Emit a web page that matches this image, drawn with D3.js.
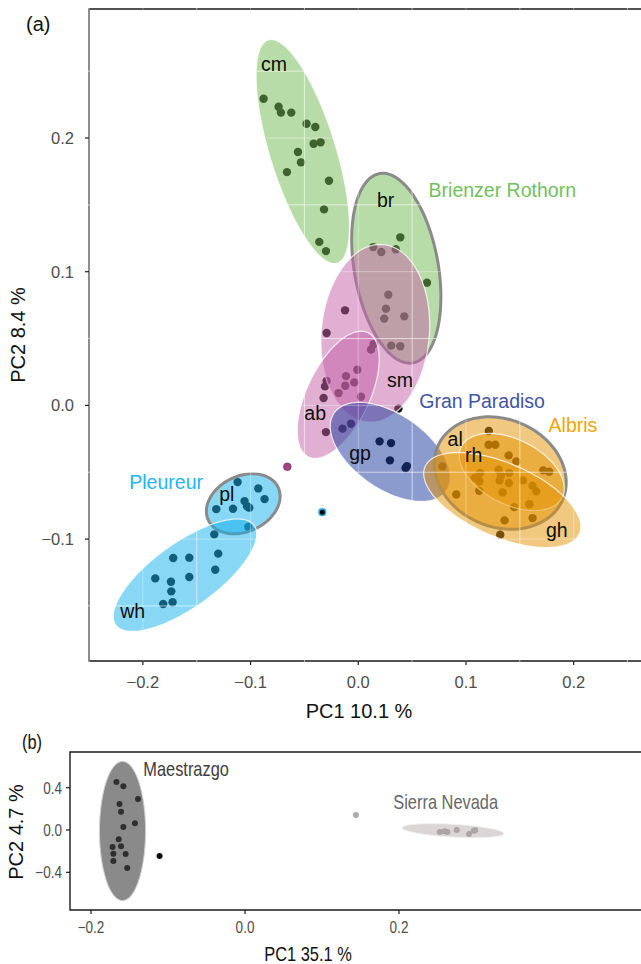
<!DOCTYPE html>
<html>
<head>
<meta charset="utf-8">
<script src="https://cdn.jsdelivr.net/npm/d3@7"></script>
<style>
  body { margin: 0; background: #fff; }
  svg { display: block; font-family: "Liberation Sans", Arial, Helvetica, sans-serif; }
</style>
</head>
<body>
<svg width="641" height="964"></svg>
<script>
// ---- panel (a): PC scores per region ----
let cmPts = [[-0.0879,0.2294],[-0.0740,0.2234],[-0.0718,0.2190],[-0.0622,0.2190],[-0.0480,0.2107],
  [-0.0399,0.2082],[-0.0415,0.1957],[-0.0350,0.1968],[-0.0560,0.1895],[-0.0532,0.1818],
  [-0.0662,0.1745],[-0.0272,0.1680],[-0.0318,0.1466],[-0.0362,0.1223],[-0.0300,0.1154]];
let brPts = [[0.0390,0.1257],[0.0348,0.1168],[0.0638,0.0918]];
let smPts = [[0.0139,0.1184],[0.0214,0.1147],[0.0279,0.0828],[0.0257,0.0723],[0.0241,0.0649],
  [0.0427,0.0666],[0.0306,0.0447],[0.0390,0.0442],[-0.0123,0.0711],[-0.0294,0.0541],
  [0.0142,0.0457],[0.0118,0.0417],[-0.0009,0.0267],[-0.0114,0.0219],[-0.0037,0.0172],
  [-0.0121,0.0147],[-0.0183,0.0092],[0.0025,0.0065],[-0.0294,0.0182],[-0.0309,0.0142],
  [-0.0322,0.0055],[0.0373,-0.0024],[-0.0300,-0.0200]];
let gpPts = [[-0.0146,-0.0174],[-0.0068,-0.0137],[0.0198,-0.0269],[0.0304,-0.0282],
  [0.0294,-0.0411],[0.0439,-0.0469],[0.0452,-0.0454]];
let albrisPts = [[0.1212,-0.0192],[0.1210,-0.0294],[0.1272,-0.0294],[0.1396,-0.0374],[0.1467,-0.0419],
  [0.0780,-0.0456],[0.1132,-0.0506],[0.1083,-0.0541],[0.1125,-0.0568],[0.1302,-0.0481],
  [0.1401,-0.0506],[0.1325,-0.0524],[0.1312,-0.0561],[0.1399,-0.0581],[0.1529,-0.0561],
  [0.1618,-0.0601],[0.1653,-0.0643],[0.1718,-0.0486],[0.1773,-0.0496],[0.1340,-0.0651],
  [0.1123,-0.0638],[0.0910,-0.0666],[0.1448,-0.0761],[0.1588,-0.0740],[0.1358,-0.0860],
  [0.1618,-0.0843],[0.1318,-0.0967]];
let pleureurPts = [[-0.1120,-0.0574],[-0.0928,-0.0621],[-0.0870,-0.0701],[-0.1056,-0.0716],
  [-0.1012,-0.0765],[-0.1033,-0.0755],[-0.1163,-0.0773],[-0.1318,-0.0776],[-0.1021,-0.0910],
  [-0.1337,-0.0965],[-0.1300,-0.1109],[-0.1328,-0.1229],[-0.1569,-0.1139],[-0.1718,-0.1142],
  [-0.1569,-0.1284],[-0.1885,-0.1294],[-0.1739,-0.1319],[-0.1736,-0.1391],[-0.1811,-0.1486],
  [-0.1724,-0.1473]];
let strayPink = [[-0.0659,-0.0459]];
let strayBlack = [[-0.0334,-0.0799]];

// ellipses: centre + two conjugate semi-axes, in PC units
let topEllipses = [
  {id: "cm", group: "br", cx: -0.0515, cy: 0.1899, ux: 0.0320, uy: -0.0835, vx: -0.0293, vy: -0.0073},
  {id: "br", group: "br", cx: 0.0353, cy: 0.1026, ux: 0.0155, uy: -0.0708, vx: -0.0384, vy: -0.0055, site: true},
  {id: "sm", group: "sm", cx: 0.0158, cy: 0.0539, ux: -0.0072, uy: -0.0664, vx: -0.0500, vy: 0.0035},
  {id: "ab", group: "sm", cx: -0.0186, cy: 0.0079, ux: -0.0276, uy: -0.0465, vx: -0.0262, vy: 0.0101},
  {id: "gp", group: "gp", cx: 0.0297, cy: -0.0348, ux: 0.0521, uy: -0.0291, vx: -0.0197, vy: -0.0229},
  {id: "al", group: "al", cx: 0.1318, cy: -0.0506, ux: 0.0582, uy: -0.0196, vx: -0.0191, vy: -0.0372, site: true},
  {id: "rh", group: "al", cx: 0.1425, cy: -0.0498, ux: 0.0468, uy: -0.0191, vx: -0.0136, vy: -0.0216},
  {id: "gh", group: "al", cx: 0.1337, cy: -0.0708, ux: 0.0717, uy: -0.0250, vx: -0.0136, vy: -0.0252},
  {id: "pl", group: "pl", cx: -0.1068, cy: -0.0736, ux: 0.0324, uy: 0.0123, vx: 0.0110, vy: -0.0188, site: true},
  {id: "wh", group: "pl", cx: -0.1609, cy: -0.1270, ux: 0.0643, uy: 0.0372, vx: 0.0174, vy: -0.0196}
];

let popLabels = [
  {text: "cm", x: -0.0903, y: 0.2500}, {text: "br", x: 0.0174, y: 0.1485},
  {text: "sm", x: 0.0266, y: 0.0137}, {text: "ab", x: -0.0501, y: -0.0112},
  {text: "gp", x: -0.0084, y: -0.0411}, {text: "al", x: 0.0829, y: -0.0304},
  {text: "rh", x: 0.0991, y: -0.0424}, {text: "gh", x: 0.1743, y: -0.0985},
  {text: "pl", x: -0.1291, y: -0.0718}, {text: "wh", x: -0.2210, y: -0.1588}
];
let regionLabels = [
  {text: "Brienzer Rothorn", group: "br", x: 0.0653, y: 0.1558},
  {text: "Gran Paradiso", group: "gp", x: 0.0566, y: -0.0017},
  {text: "Albris", group: "al", x: 0.1767, y: -0.0200},
  {text: "Pleureur", group: "pl", x: -0.2126, y: -0.0629}
];

let topXTicks = [-0.2, -0.1, 0.0, 0.1, 0.2];
let topYTicks = [-0.1, 0.0, 0.1, 0.2];
let topXMinor = [-0.25, -0.15, -0.05, 0.05, 0.15, 0.25];
let topYMinor = [-0.15, -0.05, 0.05, 0.15, 0.25];

// ---- panel (b) ----
let maestrazgoPts = [[-0.167,0.454],[-0.158,0.413],[-0.163,0.246],[-0.161,0.173],[-0.139,0.293],
  [-0.143,0.063],[-0.158,0.028],[-0.164,-0.088],[-0.172,-0.161],[-0.161,-0.154],
  [-0.171,-0.224],[-0.155,-0.227],[-0.171,-0.293],[-0.153,-0.359]];
let maestrazgoStray = [[-0.111,-0.246]];
let nevadaPts = [[0.253,-0.019],[0.259,-0.012],[0.263,-0.019],[0.275,0.000],[0.291,-0.038],[0.299,-0.003],[0.297,-0.006]];
let nevadaStray = [[0.144,0.142]];
let bottomEllipses = [
  {id: "Maestrazgo", cx: -0.1591, cy: -0.0095, ux: 0.0299, uy: 0, vx: 0, vy: 0.657},
  {id: "Sierra Nevada", cx: 0.2701, cy: -0.0066, ux: 0.0660, uy: -0.0274, vx: 0, vy: 0.061}
];
let bottomLabels = [
  {text: "Maestrazgo", x: -0.1321, y: 0.510},
  {text: "Sierra Nevada", x: 0.1926, y: 0.196}
];
let botXTicks = [-0.2, 0.0, 0.2];
let botYTicks = [-0.4, 0.0, 0.4];


let colors = {br: "#71b951", sm: "#c35fa5", gp: "#19379b", al: "#e39100", pl: "#0fafeb"};
let labelColors = {br: "#72bf5d", gp: "#3f55a5", al: "#f6a400", pl: "#22b5ef"};

let svg = d3.select("svg");
let fmt = d3.format(".1f");

function ellipsePath(e, x, y) {
  let n = 120;
  let pts = d3.range(n).map(i => {
    let t = i / n * 2 * Math.PI;
    return [x(e.cx + e.ux * Math.cos(t) + e.vx * Math.sin(t)),
            y(e.cy + e.uy * Math.cos(t) + e.vy * Math.sin(t))];
  });
  return d3.line().curve(d3.curveLinearClosed)(pts);
}

// =========== (a) ===========
let x = d3.scaleLinear().domain([-0.25, 0.2625]).range([89, 641]);
let y = d3.scaleLinear().domain([-0.1912, 0.2965]).range([661, 9]);

let panelA = svg.append("g");

let allTop = [].concat(cmPts, brPts, smPts, gpPts, albrisPts, pleureurPts);
panelA.selectAll(".pt").data(allTop).enter().append("circle")
  .attr("cx", d => x(d[0])).attr("cy", d => y(d[1])).attr("r", 4.2)
  .attr("fill", "#0d0d0d");

panelA.selectAll(".ell").data(topEllipses).enter().append("path")
  .attr("d", d => ellipsePath(d, x, y))
  .attr("fill", d => colors[d.group]).attr("fill-opacity", 0.5)
  .attr("stroke", d => d.site ? "#8a8a8a" : "#fff")
  .attr("stroke-opacity", d => d.site ? 1 : 0.8)
  .attr("stroke-width", d => d.site ? 3 : 1.2);

panelA.selectAll(".pink").data(strayPink).enter().append("circle")
  .attr("cx", d => x(d[0])).attr("cy", d => y(d[1])).attr("r", 3.8)
  .attr("fill", "#a4437f").attr("stroke", "#7d2c60").attr("stroke-width", 0.8);
panelA.selectAll(".blk").data(strayBlack).enter().append("circle")
  .attr("cx", d => x(d[0])).attr("cy", d => y(d[1])).attr("r", 3.3)
  .attr("fill", "#050505").attr("stroke", "#2aa9d8").attr("stroke-width", 1.6);

// frame
panelA.append("path")
  .attr("d", `M645,${y.range()[1]}H${x.range()[0]}V${y.range()[0]}H645`)
  .attr("fill", "none").attr("stroke", "#1a1a1a").attr("stroke-width", 1.4);

// grid sits on top of the ellipses
let grid = panelA.append("g").attr("stroke", "#fff");
grid.selectAll(".gx").data(topXTicks.concat(topXMinor)).enter().append("line")
  .attr("x1", d => x(d)).attr("x2", d => x(d)).attr("y1", 8).attr("y2", 662)
  .attr("stroke-opacity", d => topXMinor.includes(d) ? 0.6 : 0.35).attr("stroke-width", 1);
grid.selectAll(".gy").data(topYTicks.concat(topYMinor)).enter().append("line")
  .attr("y1", d => y(d)).attr("y2", d => y(d)).attr("x1", 88).attr("x2", 641)
  .attr("stroke-opacity", d => topYMinor.includes(d) ? 0.6 : 0.35).attr("stroke-width", 1);

// ticks
panelA.selectAll(".tx").data(topXTicks).enter().append("line")
  .attr("x1", d => x(d)).attr("x2", d => x(d)).attr("y1", 661).attr("y2", 665)
  .attr("stroke", "#1a1a1a").attr("stroke-width", 1.2);
panelA.selectAll(".ty").data(topYTicks).enter().append("line")
  .attr("y1", d => y(d)).attr("y2", d => y(d)).attr("x1", 85).attr("x2", 89)
  .attr("stroke", "#1a1a1a").attr("stroke-width", 1.2);
panelA.selectAll(".txl").data(topXTicks).enter().append("text")
  .attr("x", d => x(d)).attr("y", 688).attr("text-anchor", "middle")
  .attr("font-size", 16.5).attr("fill", "#4d4d4d").text(fmt);
panelA.selectAll(".tyl").data(topYTicks).enter().append("text")
  .attr("x", 74).attr("y", d => y(d)).attr("dy", "0.36em").attr("text-anchor", "end")
  .attr("font-size", 16.5).attr("fill", "#4d4d4d").text(fmt);

panelA.append("text").attr("x", 359).attr("y", 718).attr("text-anchor", "middle")
  .attr("font-size", 20).attr("fill", "#111").text("PC1 10.1 %");
panelA.append("text").attr("transform", "translate(25,335) rotate(-90)").attr("text-anchor", "middle")
  .attr("font-size", 20).attr("fill", "#111").text("PC2 8.4 %");
panelA.append("text").attr("x", 26).attr("y", 31).attr("font-size", 20).attr("fill", "#111").text("(a)");

panelA.selectAll(".pop").data(popLabels).enter().append("text")
  .attr("x", d => x(d.x)).attr("y", d => y(d.y))
  .attr("font-size", 19.5).attr("fill", "#0d0d0d").text(d => d.text);
panelA.selectAll(".reg").data(regionLabels).enter().append("text")
  .attr("x", d => x(d.x)).attr("y", d => y(d.y))
  .attr("font-size", 19.5).attr("fill", d => labelColors[d.group]).text(d => d.text);

// =========== (b) ===========
let xb = d3.scaleLinear().domain([-0.2273, 0.5143]).range([70, 641]);
let yb = d3.scaleLinear().domain([-0.756, 0.737]).range([910, 752]);
let panelB = svg.append("g");
let squeeze = 0.82;

panelB.selectAll(".bell").data(bottomEllipses).enter().append("path")
  .attr("d", d => ellipsePath(d, xb, yb))
  .attr("fill", (d, i) => i == 0 ? "#8a8a8a" : "#dbd6d6")
  .attr("stroke", (d, i) => i == 0 ? "#cfcfcf" : "#f2f2f2").attr("stroke-width", 1);

panelB.selectAll(".mp").data(maestrazgoPts).enter().append("circle")
  .attr("cx", d => xb(d[0])).attr("cy", d => yb(d[1])).attr("r", 3)
  .attr("fill", "#2f2f2f");
panelB.selectAll(".ms").data(maestrazgoStray).enter().append("circle")
  .attr("cx", d => xb(d[0])).attr("cy", d => yb(d[1])).attr("r", 3)
  .attr("fill", "#0a0a0a");
panelB.selectAll(".np").data(nevadaPts).enter().append("circle")
  .attr("cx", d => xb(d[0])).attr("cy", d => yb(d[1])).attr("r", 3)
  .attr("fill", "#ada5a5");
panelB.selectAll(".ns").data(nevadaStray).enter().append("circle")
  .attr("cx", d => xb(d[0])).attr("cy", d => yb(d[1])).attr("r", 3)
  .attr("fill", "#ababab");

panelB.append("path")
  .attr("d", `M645,${yb.range()[1]}H${xb.range()[0]}V${yb.range()[0]}H645`)
  .attr("fill", "none").attr("stroke", "#1a1a1a").attr("stroke-width", 1.4);

panelB.selectAll(".btx").data(botXTicks).enter().append("line")
  .attr("x1", d => xb(d)).attr("x2", d => xb(d)).attr("y1", 910).attr("y2", 914)
  .attr("stroke", "#1a1a1a").attr("stroke-width", 1.2);
panelB.selectAll(".bty").data(botYTicks).enter().append("line")
  .attr("y1", d => yb(d)).attr("y2", d => yb(d)).attr("x1", 66).attr("x2", 70)
  .attr("stroke", "#1a1a1a").attr("stroke-width", 1.2);
panelB.selectAll(".btxl").data(botXTicks).enter().append("text")
  .attr("transform", d => `translate(${xb(d)},933) scale(${squeeze},1)`).attr("text-anchor", "middle")
  .attr("font-size", 16.5).attr("fill", "#4d4d4d").text(fmt);
panelB.selectAll(".btyl").data(botYTicks).enter().append("text")
  .attr("transform", d => `translate(62,${yb(d)}) scale(${squeeze},1)`).attr("dy", "0.36em")
  .attr("text-anchor", "end").attr("font-size", 16.5).attr("fill", "#4d4d4d").text(fmt);

panelB.append("text").attr("transform", `translate(308,961) scale(${squeeze},1)`).attr("text-anchor", "middle")
  .attr("font-size", 20).attr("fill", "#111").text("PC1 35.1 %");
panelB.append("text").attr("transform", "translate(23,832) rotate(-90)").attr("text-anchor", "middle")
  .attr("font-size", 20).attr("fill", "#111").text("PC2 4.7 %");
panelB.append("text").attr("transform", `translate(22,749) scale(${squeeze},1)`)
  .attr("font-size", 20).attr("fill", "#111").text("(b)");

panelB.selectAll(".blab").data(bottomLabels).enter().append("text")
  .attr("transform", d => `translate(${xb(d.x)},${yb(d.y)}) scale(${squeeze},1)`)
  .attr("font-size", 20).attr("fill", (d, i) => i == 0 ? "#3d3d3d" : "#666").text(d => d.text);
</script>
</body>
</html>
